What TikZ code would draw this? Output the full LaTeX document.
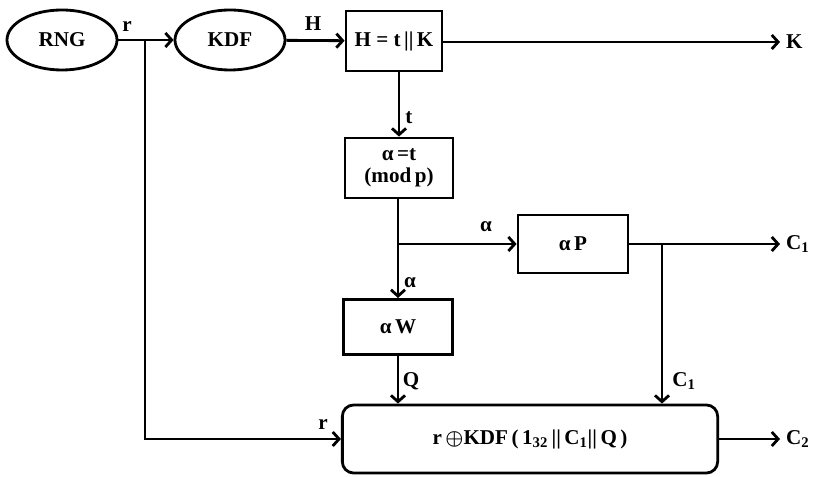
\documentclass[tikz,border=0pt]{standalone}
\usepackage{fontspec}
\setmainfont{Liberation Serif}
\usetikzlibrary{shapes.geometric,arrows.meta}
\begin{document}
\begin{tikzpicture}[x=0.025cm,y=-0.025cm,line width=2pt,
        every node/.style={font=\fontsize{15}{16}\selectfont\bfseries\boldmath},
        oval/.style={draw,ellipse,minimum width=2.75cm,minimum height=1.5cm,inner sep=0pt},
        blk/.style={draw,rectangle,align=center,inner sep=0pt},
        arr/.style={-{Straight Barb[length=4.5pt,width=10pt]}}]
            \useasboundingbox (0,0) rectangle (814,477);
            \node[oval] (rng) at (62,40) {RNG};
            \node[oval] (kdf) at (230,40) {KDF};
            \node[blk,minimum width=2.4cm,minimum height=1.5cm] (split) at (394,41) {H = t\,||\,K};
            \node[blk,minimum width=2.7cm,minimum height=1.5cm] (modp) at (399,168) {α\,=t\\(mod\,p)};
            \node[blk,minimum width=2.75cm,minimum height=1.45cm] (ap) at (573,244) {α\,P};
            \node[blk,minimum width=2.72cm,minimum height=1.38cm] (aw) at (398,327) {α\,W};
            \node[blk,rounded corners=8pt,minimum width=9.38cm,minimum height=1.7cm] (out) at (530,439)
                {r\,$\oplus$KDF\,(\,1\textsubscript{32}\,||\,C\textsubscript{1}||\,Q\,)};
            \coordinate (br1) at (145,40);
            \coordinate (br2) at (aw.north |- ap.west);
            \coordinate (br3) at (662,244);
            \coordinate (kend) at (780,42);
            \coordinate (c1end) at (780,244);
            \coordinate (c2end) at (780,439);
            \draw[arr] (rng) -- (kdf);
            \draw[arr] (br1) |- (out.west);
            \draw[arr] (kdf) -- (split);
            \draw[arr] (split.east |- kend) -- (kend);
            \draw[arr] (modp.north |- split.south) -- (modp.north);
            \draw[arr] (aw.north |- modp.south) -- (aw.north);
            \draw[arr] (br2) -- (ap.west);
            \draw[arr] (ap.east) -- (c1end);
            \draw[arr] (br3) -- (br3 |- out.north);
            \draw[arr] (aw.south) -- (aw.south |- out.north);
            \draw[arr] (out.east) -- (c2end);
            \node (lr1) at (127,27) {r};
            \node (lh) at (313,24) {H};
            \node[anchor=west] (lk) at (kend) {K};
            \node (lt) at (409,118) {t};
            \node (la1) at (486,227) {α};
            \node (la2) at (410,283) {α};
            \node[anchor=west] (lc1a) at (c1end) {C\textsubscript{1}};
            \node (lq) at (411,381) {Q};
            \node (lc1b) at (684,381) {C\textsubscript{1}};
            \node (lr2) at (323,425) {r};
            \node[anchor=west] (lc2) at (c2end) {C\textsubscript{2}};
\end{tikzpicture}
\end{document}
